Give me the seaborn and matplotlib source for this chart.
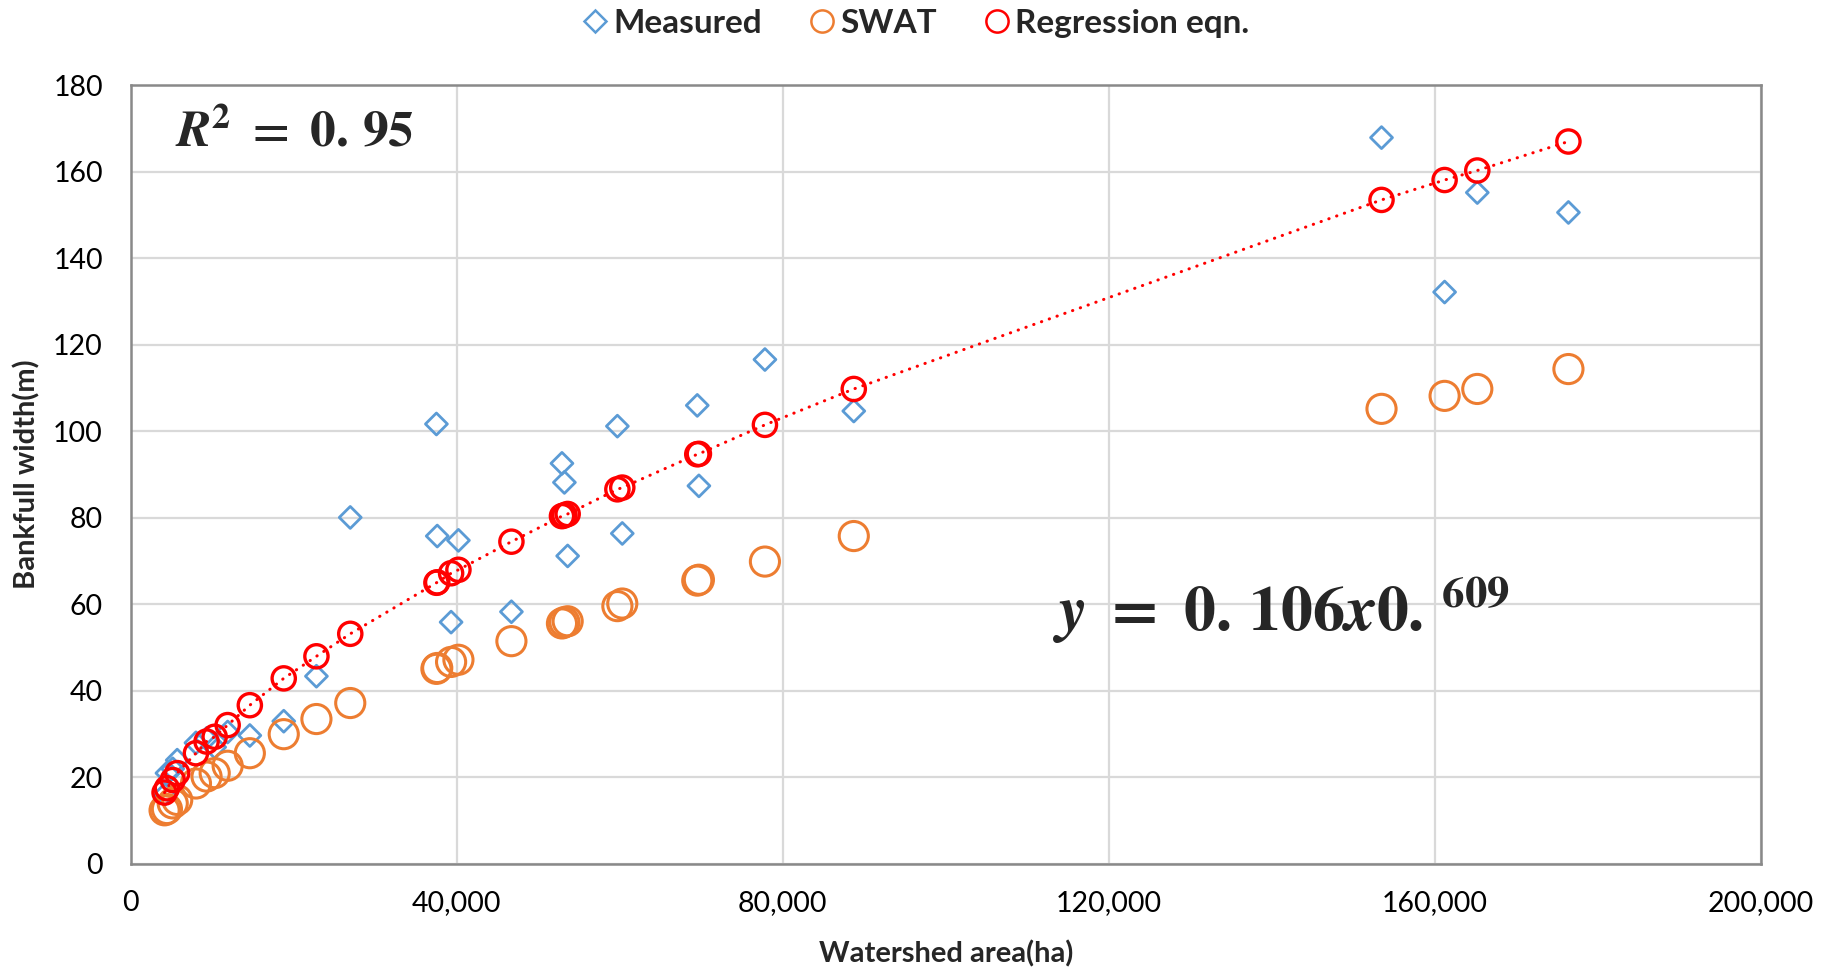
#!/bin/env python
# bankfull width vs watershed area: measured, SWAT and regression eqn.

import numpy as np
import pandas as pd
import seaborn as sns
import matplotlib.pyplot as plt
from matplotlib.lines import Line2D

# watershed area (ha), one entry per station
area = [4150, 4440, 5150, 5700, 8000, 9300, 10300, 11890, 14610, 18770,
        22780, 26930, 37500, 37600, 39300, 40200, 46700, 52900, 53200, 53600,
        59700, 60300, 69500, 69700, 77800, 88700, 153440, 161180, 165190, 176370]
# bankfull width (m)
measured = [16.0, 21.0, 22.0, 24.0, 28.0, 29.0, 27.0, 30.5, 29.7, 33.0,
            43.4, 80.1, 101.7, 75.8, 55.9, 74.8, 58.3, 92.6, 88.2, 71.2,
            101.2, 76.4, 106.0, 87.4, 116.6, 104.7, 167.9, 132.2, 155.2, 150.6]
swat = [12.4, 12.7, 14.0, 14.8, 18.6, 20.2, 21.0, 22.7, 25.6, 30.0,
        33.5, 37.2, 45.1, 45.3, 46.7, 47.2, 51.5, 55.6, 55.9, 56.1,
        59.6, 60.2, 65.5, 65.7, 69.9, 75.8, 105.2, 108.2, 109.8, 114.4]
regression = [16.5, 17.5, 19.4, 21.0, 25.6, 28.3, 29.4, 32.1, 36.7, 42.9,
              48.0, 53.2, 65.0, 65.1, 67.2, 68.0, 74.5, 80.4, 80.6, 80.9,
              86.6, 87.0, 94.7, 94.8, 101.5, 109.8, 153.5, 158.1, 160.3, 167.0]

x_ticks = [0, 40000, 80000, 120000, 160000, 200000]
y_ticks = [0, 20, 40, 60, 80, 100, 120, 140, 160, 180]

BLUE = '#5B9BD5'
ORANGE = '#ED7D31'
RED = '#FF0000'

sns.set_theme(style='white')
plt.rcParams['font.family'] = ['Lato', 'DejaVu Sans']
plt.rcParams['mathtext.fontset'] = 'stix'

df = pd.DataFrame({'area': area, 'measured': measured,
                   'swat': swat, 'regression': regression})

fig = plt.figure(figsize=(18.31, 9.69), dpi=100)
ax = fig.add_axes([0.0714, 0.1084, 0.8904, 0.8036])

sns.scatterplot(data=df, x='area', y='measured', marker='D', s=125,
                facecolor='none', edgecolor=BLUE, linewidth=2.0, ax=ax, zorder=3)
sns.scatterplot(data=df, x='area', y='swat', marker='o', s=440,
                facecolor='none', edgecolor=ORANGE, linewidth=2.2, ax=ax, zorder=4)
sns.lineplot(data=df, x='area', y='regression', color=RED, lw=2.2,
             linestyle=(0, (0.1, 2.6)), dash_capstyle='round', sort=True,
             estimator=None, ax=ax, zorder=5)
sns.scatterplot(data=df, x='area', y='regression', marker='o', s=280,
                facecolor='none', edgecolor=RED, linewidth=2.4, ax=ax, zorder=6)

ax.set_xlim(0, 200000)
ax.set_ylim(0, 180)
ax.set_xticks(x_ticks)
ax.set_yticks(y_ticks)
ax.set_xticklabels([f'{v:,}' for v in x_ticks])
ax.tick_params(axis='both', length=0, labelsize=20.5, colors='black')
ax.tick_params(axis='x', pad=19)
ax.tick_params(axis='y', pad=20)

ax.set_axisbelow(True)
ax.grid(True, color='#D9D9D9', lw=1.6)
for side in ax.spines.values():
    side.set_color('#898989')
    side.set_linewidth(1.8)

ax.set_xlabel('Watershed area(ha)', fontsize=21, fontweight='bold', labelpad=17)
ax.set_ylabel('Bankfull width(m)', fontsize=21, fontweight='bold', labelpad=9)

ax.text(0.027, 0.94, r'$\mathbfit{R}^{\mathbf{2}}\mathbf{\ =\ 0.\,95}$',
        transform=ax.transAxes, fontsize=37, va='center', ha='left')
ax.text(0.565, 0.325,
        r'$\mathbfit{y}\mathbf{\ =\ 0.\,106}\mathbfit{x}\mathbf{0.\,}^{\mathbf{609}}$',
        transform=ax.transAxes, fontsize=46, va='center', ha='left')

handles = [
    Line2D([], [], ls='none', marker='D', ms=11, mfc='none', mec=BLUE, mew=1.8),
    Line2D([], [], ls='none', marker='o', ms=16, mfc='none', mec=ORANGE, mew=1.8),
    Line2D([], [], ls='none', marker='o', ms=16, mfc='none', mec=RED, mew=1.8),
]
fig.legend(handles, ['Measured', 'SWAT', 'Regression eqn.'], loc='center',
           bbox_to_anchor=(0.5, 0.976), ncol=3, frameon=False,
           prop={'size': 24, 'weight': 'bold'}, handletextpad=0.15,
           columnspacing=1.4, handlelength=0.8)

fig.savefig('out.png', dpi=100)
